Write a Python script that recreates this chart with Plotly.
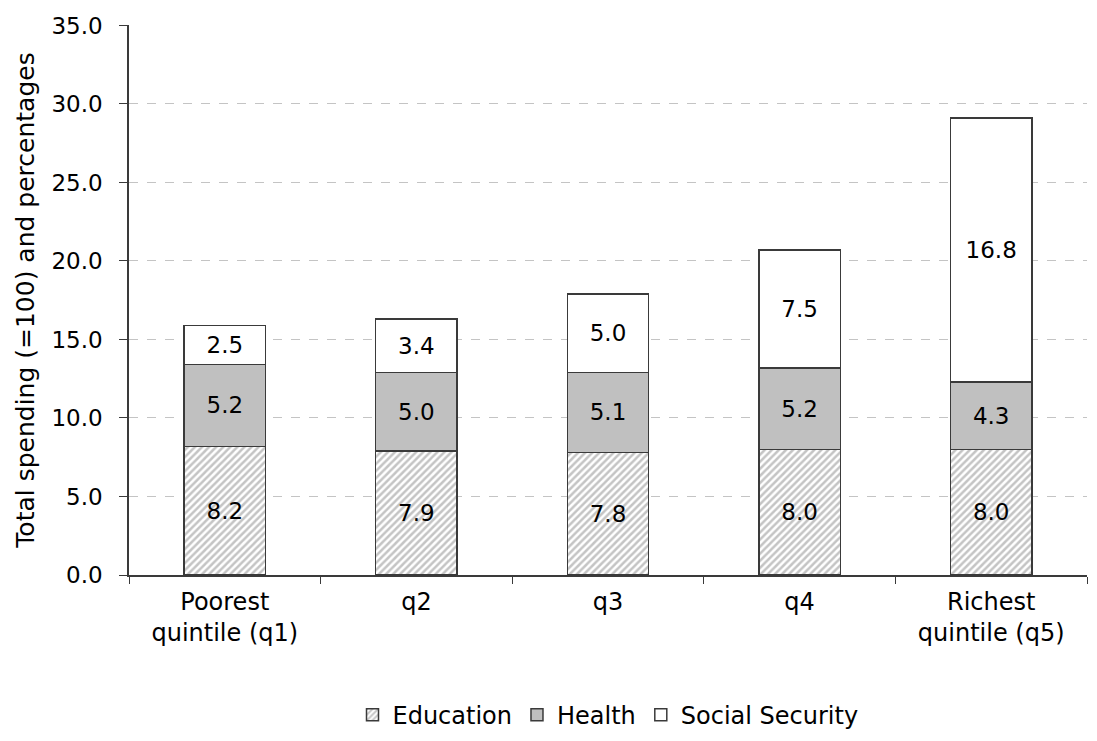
import plotly.graph_objects as go

quintiles = ["Poorest<br>quintile (q1)", "q2", "q3", "q4", "Richest<br>quintile (q5)"]
education = [8.2, 7.9, 7.8, 8.0, 8.0]
health = [5.2, 5.0, 5.1, 5.2, 4.3]
social_security = [2.5, 3.4, 5.0, 7.5, 16.8]
y_ticks = [0, 5, 10, 15, 20, 25, 30, 35]

FONT = "DejaVu Sans"
line = dict(color="#3a3a3a", width=1.5)

fig = go.Figure()
fig.add_trace(go.Bar(
    name="Education", x=quintiles, y=education,
    text=[f"{v:.1f}" for v in education],
    marker=dict(color="white", line=line,
                pattern=dict(shape="/", fgcolor="#8a8a8a", bgcolor="white",
                             size=5, solidity=0.5)),
))
fig.add_trace(go.Bar(
    name="Health", x=quintiles, y=health,
    text=[f"{v:.1f}" for v in health],
    marker=dict(color="#c0c0c0", line=line),
))
fig.add_trace(go.Bar(
    name="Social Security", x=quintiles, y=social_security,
    text=[f"{v:.1f}" for v in social_security],
    marker=dict(color="white", line=line),
))
fig.update_traces(textposition="inside", insidetextanchor="middle",
                  textfont=dict(family=FONT, size=23, color="black"),
                  constraintext="none")

fig.update_layout(
    barmode="stack", bargap=0.575,
    width=1097, height=741,
    paper_bgcolor="white", plot_bgcolor="white",
    margin=dict(l=129, r=10, t=25, b=166, autoexpand=False),
    font=dict(family=FONT, size=24, color="black"),
    uniformtext=dict(mode=False),
    legend=dict(orientation="h", x=0.5, xanchor="center",
                yref="container", y=0.035, yanchor="middle",
                font=dict(size=24), itemwidth=30, traceorder="normal"),
    showlegend=True,
)
fig.update_yaxes(range=[0, 35.03], tickvals=y_ticks,
                 ticktext=[f"{v:.1f}" for v in y_ticks],
                 tickfont=dict(size=23), automargin=False,
                 showgrid=True, gridcolor="#c4c4c4", griddash="dash", gridwidth=1,
                 showline=True, linecolor="#3a3a3a", linewidth=1.5,
                 ticks="outside", ticklen=8, tickcolor="#3a3a3a",
                 ticklabelstandoff=12,
                 zeroline=False,
                 title=dict(text="Total spending (=100) and percentages",
                            font=dict(size=25), standoff=10))
fig.update_xaxes(showline=True, linecolor="#3a3a3a", linewidth=1.5,
                 ticks="outside", tickson="boundaries", ticklen=7,
                 automargin=False,
                 tickcolor="#3a3a3a", ticklabelstandoff=4)

fig.write_html("out.html")
